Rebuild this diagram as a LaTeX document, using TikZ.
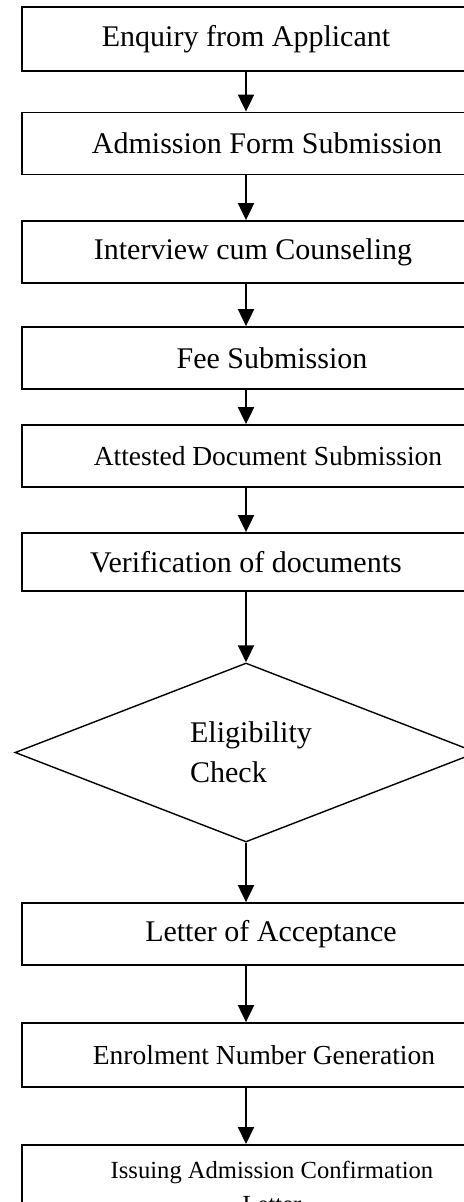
\documentclass[tikz,border=0pt]{standalone}
\usepackage{fontspec}
\setmainfont{Liberation Serif}
\usetikzlibrary{shapes.geometric,arrows.meta}

\begin{document}
\begin{tikzpicture}
	[
	x=0.5pt, y=-0.5pt, font=\fontsize{15}{20}\selectfont, >={Triangle[width=8pt,length=8.5pt]},
	%Voreinstellung für Kästen, Raute und Pfeile
	stepbox/.style={draw, line width=0.9pt, minimum width=224pt, minimum height=31pt, inner sep=0pt},
	checkbox/.style={draw, diamond, line width=0.7pt, aspect=2.6, minimum width=231pt, minimum height=89.5pt, inner sep=0pt, align=left},
	flow/.style={->, line width=1pt}
	]
	\useasboundingbox (0,0) rectangle (464,1202);
	
	%Kästen
	\node[stepbox, minimum height=32pt] (enquiry) at (246,39) {Enquiry from Applicant};
	\node[stepbox] (form) at (246,143.5) {\hspace*{21pt}Admission Form Submission};
	\node[stepbox] (interview) at (246,252) {\hspace*{7pt}Interview cum Counseling};
	\node[stepbox] (fee) at (246,358) {\hspace*{26pt}Fee Submission};
	\node[stepbox, font=\fontsize{13.75}{17}\selectfont] (attested) at (246,456) {\hspace*{22pt}Attested Document Submission};
	\node[stepbox, minimum height=29pt] (verify) at (246,562) {Verification of documents};
	
	%Raute
	\node[checkbox] (check) at (246,752.5) {\hspace*{5pt}Eligibility\\\hspace*{5pt}Check};
	
	%Kästen nach der Prüfung
	\node[stepbox] (accept) at (246,934) {\hspace*{25pt}Letter of Acceptance};
	\node[stepbox, minimum height=32pt, font=\fontsize{13.75}{17}\selectfont] (enrol) at (246,1055) {\hspace*{18pt}Enrolment Number Generation};
	\node[stepbox, anchor=north, inner ysep=8pt, align=center, font=\fontsize{12.3}{17}\selectfont] (issue) at (246,1144) {\hspace*{26pt}Issuing Admission Confirmation\\\hspace*{26pt}Letter};
	
	%Pfeile
	\draw[flow] (enquiry) -- (form);
	\draw[flow] (form) -- (interview);
	\draw[flow] (interview) -- (fee);
	\draw[flow] (fee) -- (attested);
	\draw[flow] (attested) -- (verify);
	\draw[flow] (verify) -- (check);
	\draw[flow] (check) -- (accept);
	\draw[flow] (accept) -- (enrol);
	\draw[flow] (enrol) -- (issue);
\end{tikzpicture}
\end{document}
